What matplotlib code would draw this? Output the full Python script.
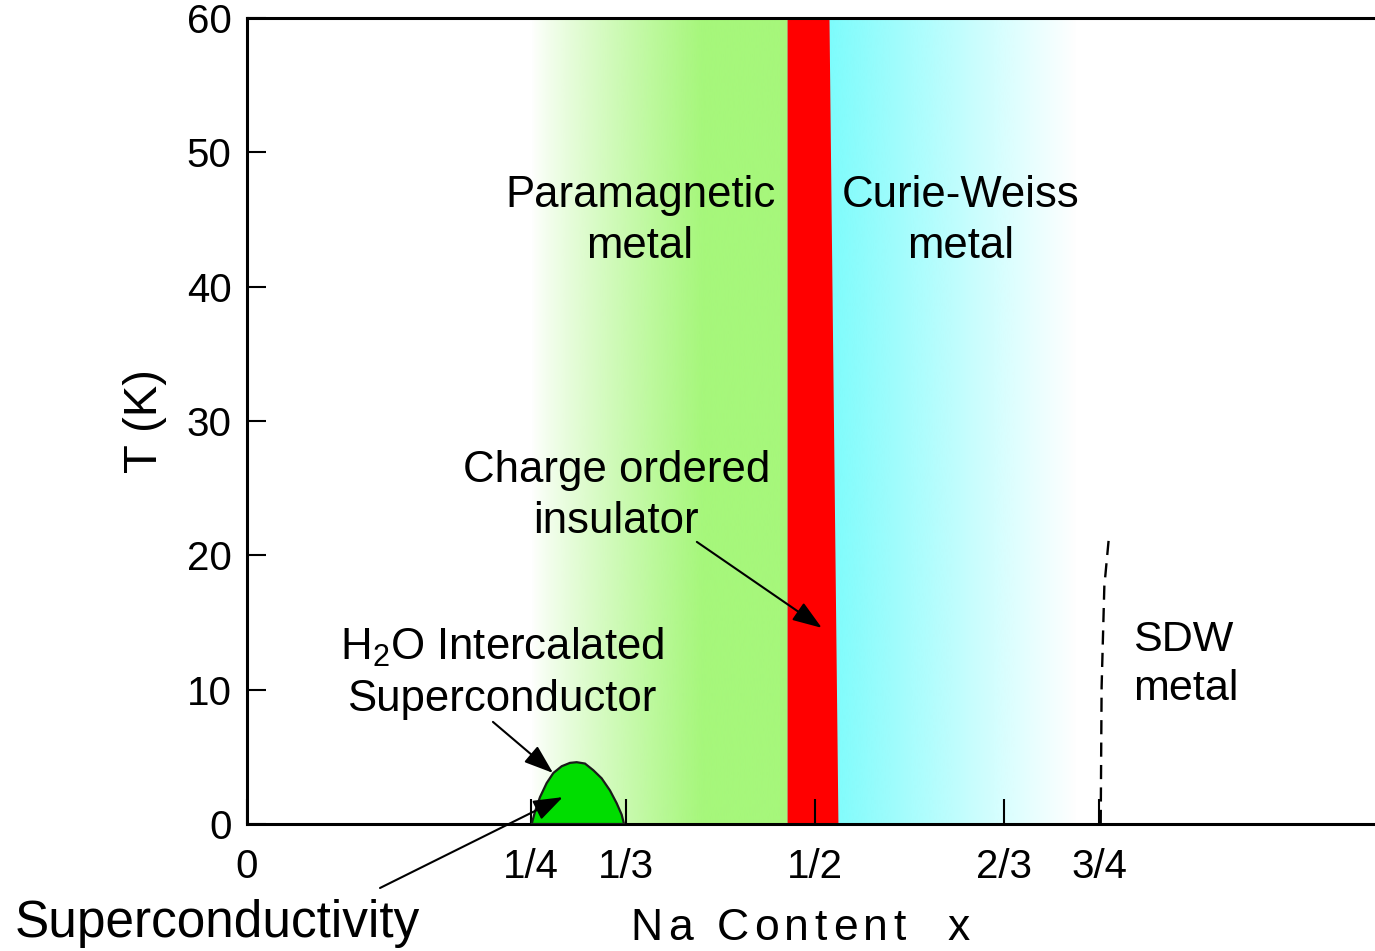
import numpy as np
import matplotlib
matplotlib.use("Agg")
import matplotlib.pyplot as plt
from matplotlib.colors import to_rgb

plt.rcParams["font.family"] = ["Liberation Sans", "DejaVu Sans"]
plt.rcParams["mathtext.fontset"] = "custom"
plt.rcParams["mathtext.rm"] = "Liberation Sans"
plt.rcParams["mathtext.it"] = "Liberation Sans:italic"

W, H, DPI = 1375, 951, 100

# Axis ticks
x_ticks = [0, 1 / 4, 1 / 3, 1 / 2, 2 / 3, 3 / 4, 1]
x_tick_labels = ["0", "1/4", "1/3", "1/2", "2/3", "3/4", "1"]
y_ticks = [0, 10, 20, 30, 40, 50, 60]

# Phase boundaries (Na content x)
para_start = 0.25      # paramagnetic metal fades in
para_full = 0.40       # full paramagnetic colour
co_left = 0.4754       # charge ordered insulator, left edge
co_right_top = 0.5123  # right edge at T = 60 K
co_right_bottom = 0.5202  # right edge at T = 0 K
cw_end = 0.73          # Curie-Weiss metal fades out

# Superconducting dome of the hydrated compound
sc_x = [0.2506, 0.2535, 0.2579, 0.2638, 0.2697, 0.2770, 0.2843, 0.2902,
        0.2975, 0.3049, 0.3122, 0.3195, 0.3254, 0.3298, 0.3319]
sc_T = [0.0, 0.92, 2.0, 3.05, 3.8, 4.3, 4.55, 4.6,
        4.5, 4.0, 3.4, 2.5, 1.55, 0.7, 0.0]

# SDW transition line
sdw_x = [0.7515, 0.7523, 0.7547, 0.7590]
sdw_T = [0.0, 10.2, 17.7, 21.6]

green = np.array(to_rgb("#a6f77b"))
cyan = np.array(to_rgb("#7dfcfc"))

fig = plt.figure(figsize=(W / DPI, H / DPI), dpi=DPI)
fig.patch.set_facecolor("white")
ax = fig.add_axes([247 / W, 1 - 824 / H, 1136 / W, (824 - 18) / H])

# Background colour gradients for the metallic phases
xs = np.linspace(0.24, 0.75, 1500)
rgba = np.ones((1, xs.size, 4))
rgba[..., 3] = 0.0
g = (xs >= para_start) & (xs <= co_left)
a_g = np.clip((xs - para_start) / (para_full - para_start), 0, 1) ** 0.85
rgba[0, g, :3] = green
rgba[0, g, 3] = a_g[g]
c = (xs > co_left) & (xs <= cw_end)
a_c = np.clip((cw_end - xs) / (cw_end - co_right_top), 0, 1)
rgba[0, c, :3] = cyan
rgba[0, c, 3] = a_c[c]
ax.imshow(rgba, extent=[xs[0], xs[-1], 0, 60], aspect="auto",
          interpolation="bilinear", zorder=0)

# Charge ordered insulator
ax.fill_betweenx([0, 60], [co_left, co_left], [co_right_bottom, co_right_top],
                 color="#ff0000", lw=0, zorder=1)

# Superconducting dome
ax.fill(sc_x, sc_T, facecolor="#00dd00", edgecolor="#1a1a1a", lw=1.6,
        zorder=3)

# SDW line
ax.plot(sdw_x, sdw_T, color="black", lw=1.7, dashes=(6, 3.5), zorder=3)

ax.set_xlim(0, 1)
ax.set_ylim(0, 60)
ax.set_xticks(x_ticks)
ax.set_xticklabels(x_tick_labels)
ax.set_yticks(y_ticks)
ax.tick_params(axis="x", direction="in", length=18, width=1.5, pad=17,
               labelsize=29)
ax.tick_params(axis="y", direction="in", length=14, width=1.5, pad=11,
               labelsize=29)
for side in ["left", "bottom", "top", "right"]:
    ax.spines[side].set_linewidth(2.2)

ax.set_ylabel("T (K)", fontsize=34, labelpad=14)

# Region labels
lab = dict(ha="center", va="center", fontsize=31.5, linespacing=1.3, zorder=5)
ax.text(0.346, 44.9, "Paramagnetic\nmetal", **lab)
ax.text(0.6285, 44.9, "Curie-Weiss\nmetal", **lab)
ax.text(0.325, 24.4, "Charge ordered\ninsulator", **lab)
ax.text(0.2245, 11.25, "H$_2$O Intercalated\nSuperconductor", **lab)
ax.text(0.78, 11.85, "SDW\nmetal", ha="left", va="center", fontsize=31,
        linespacing=1.3, zorder=5)

arrow = dict(arrowstyle="-|>,head_length=0.9,head_width=0.32",
             color="black", lw=1.5, mutation_scale=20, shrinkA=0, shrinkB=0)
ax.annotate("", xy=(0.506, 14.6), xytext=(0.396, 21.0), arrowprops=arrow,
            zorder=6)
ax.annotate("", xy=(0.2694, 3.8), xytext=(0.2165, 7.6), arrowprops=arrow,
            zorder=6)
ax.annotate("", xy=(0.278, 2.0), xytext=(380 / W, 1 - 888 / H),
            textcoords="figure fraction", arrowprops=arrow,
            annotation_clip=False, zorder=6)

fig.text(15 / W, 1 - 923 / H, "Superconductivity", ha="left", va="center",
         fontsize=37)

# Letter-spaced x-axis label
adv = {"N": 0.722, "a": 0.556, " ": 0.278, "C": 0.722, "o": 0.556,
       "n": 0.556, "t": 0.278, "e": 0.556, "x": 0.5}
xl_size = 32
em_px = xl_size * DPI / 72
px = 630
for ch in "Na Content  x":
    if ch != " ":
        fig.text(px / W, 1 - 928 / H, ch, ha="left", va="center",
                 fontsize=xl_size)
    px += adv[ch] * em_px + 5.7

fig.savefig("out.png", dpi=DPI)
